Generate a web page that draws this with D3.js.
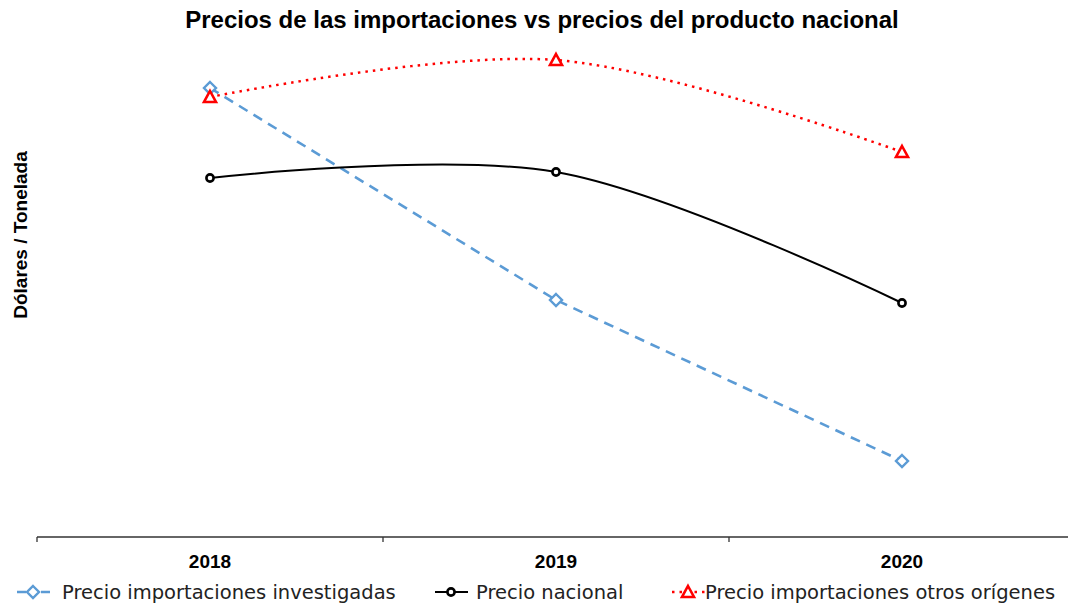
<!DOCTYPE html>
<html>
<head>
<meta charset="utf-8">
<script src="https://cdn.jsdelivr.net/npm/d3@7"></script>
<style>
  body { margin: 0; background: #fff; }
  svg { display: block; }
</style>
</head>
<body>
<div id="chart"></div>
<script>
const years = ["2018", "2019", "2020"];
const investigadas = [898, 474, 152];
const nacional = [718, 730, 468];
const otros = [880, 954, 770];

const width = 1068, height = 603;
const margin = { top: 37, right: -7, bottom: 66, left: 37 };

const svg = d3.select("#chart").append("svg")
  .attr("width", width)
  .attr("height", height);

const x = d3.scaleBand()
  .domain(years)
  .range([margin.left, width - margin.right]);

const y = d3.scaleLinear()
  .domain([0, 1000])
  .range([height - margin.bottom, margin.top]);

const cx = d => x(d) + x.bandwidth() / 2;

// title
svg.append("text")
  .attr("x", 542)
  .attr("y", 28)
  .attr("text-anchor", "middle")
  .style("font-family", "Liberation Sans, Arial, sans-serif")
  .style("font-weight", "bold")
  .style("font-size", "24px")
  .text("Precios de las importaciones vs precios del producto nacional");

// y label
svg.append("text")
  .attr("transform", "translate(27,235) rotate(-90)")
  .attr("text-anchor", "middle")
  .style("font-family", "Liberation Sans, Arial, sans-serif")
  .style("font-weight", "bold")
  .style("font-size", "19px")
  .text("Dólares / Tonelada");

// x axis
const xAxis = svg.append("g")
  .attr("transform", `translate(0,${height - margin.bottom})`);

xAxis.append("line")
  .attr("x1", margin.left).attr("x2", width)
  .attr("stroke", "#333").attr("stroke-width", 1.3);

const bounds = [x("2018"), x("2019"), x("2020")];
xAxis.selectAll("line.tick")
  .data(bounds)
  .enter()
  .append("line")
  .attr("class", "tick")
  .attr("x1", d => d).attr("x2", d => d)
  .attr("y1", 0).attr("y2", 5)
  .attr("stroke", "#333").attr("stroke-width", 1.3);

xAxis.selectAll("text")
  .data(years)
  .enter()
  .append("text")
  .attr("x", d => cx(d))
  .attr("y", 31)
  .attr("text-anchor", "middle")
  .style("font-family", "Liberation Sans, Arial, sans-serif")
  .style("font-weight", "bold")
  .style("font-size", "19px")
  .text(d => d);

const series = [
  { name: "Precio importaciones investigadas", values: investigadas, color: "#5B9BD5",
    dash: "10,7", width: 2.6, curve: d3.curveLinear, marker: "diamond" },
  { name: "Precio nacional", values: nacional, color: "#000000",
    dash: null, width: 2, curve: d3.curveCatmullRom.alpha(0.5), marker: "circle" },
  { name: "Precio importaciones otros orígenes", values: otros, color: "#FF0000",
    dash: "2.5,5", width: 2.5, curve: d3.curveCatmullRom.alpha(0.5), marker: "triangle" }
];

function drawMarker(g, type, color) {
  if (type === "diamond") {
    g.append("path")
      .attr("d", "M0,-6L6,0L0,6L-6,0Z")
      .attr("fill", "#fff").attr("stroke", color).attr("stroke-width", 2.4);
  } else if (type === "circle") {
    g.append("circle").attr("r", 3.6)
      .attr("fill", "#fff").attr("stroke", color).attr("stroke-width", 2.6);
  } else {
    g.append("path")
      .attr("d", "M0,-6L6,5L-6,5Z")
      .attr("fill", "#fff").attr("stroke", color).attr("stroke-width", 2.6);
  }
}

series.forEach(s => {
  const line = d3.line()
    .x((d, i) => cx(years[i]))
    .y(d => y(d))
    .curve(s.curve);
  svg.append("path")
    .datum(s.values)
    .attr("d", line)
    .attr("fill", "none")
    .attr("stroke", s.color)
    .attr("stroke-width", s.width)
    .attr("stroke-dasharray", s.dash);
});

// markers drawn after lines
series.forEach(s => {
  s.values.forEach((v, i) => {
    const g = svg.append("g")
      .attr("transform", `translate(${cx(years[i])},${y(v)})`);
    drawMarker(g, s.marker, s.color);
  });
});

// legend
const legendMarkerX = [33, 451, 688];
const legendTextX = [62, 476, 705];
const legend = svg.append("g").attr("transform", "translate(0,592)");
series.forEach((s, i) => {
  const g = legend.append("g");
  const m0 = legendMarkerX[i];
  g.append("line")
    .attr("x1", m0 - 16).attr("x2", m0 + 17)
    .attr("stroke", s.color)
    .attr("stroke-width", s.width)
    .attr("stroke-dasharray", s.marker === "diamond" ? "9,15" : s.dash);
  const m = g.append("g").attr("transform", `translate(${m0},0)`);
  drawMarker(m, s.marker, s.color);
  g.append("text")
    .attr("x", legendTextX[i])
    .attr("y", 7)
    .style("font-family", "DejaVu Sans, sans-serif")
    .style("font-size", "19.5px")
    .attr("fill", "#222")
    .text(s.name);
});
</script>
</body>
</html>
